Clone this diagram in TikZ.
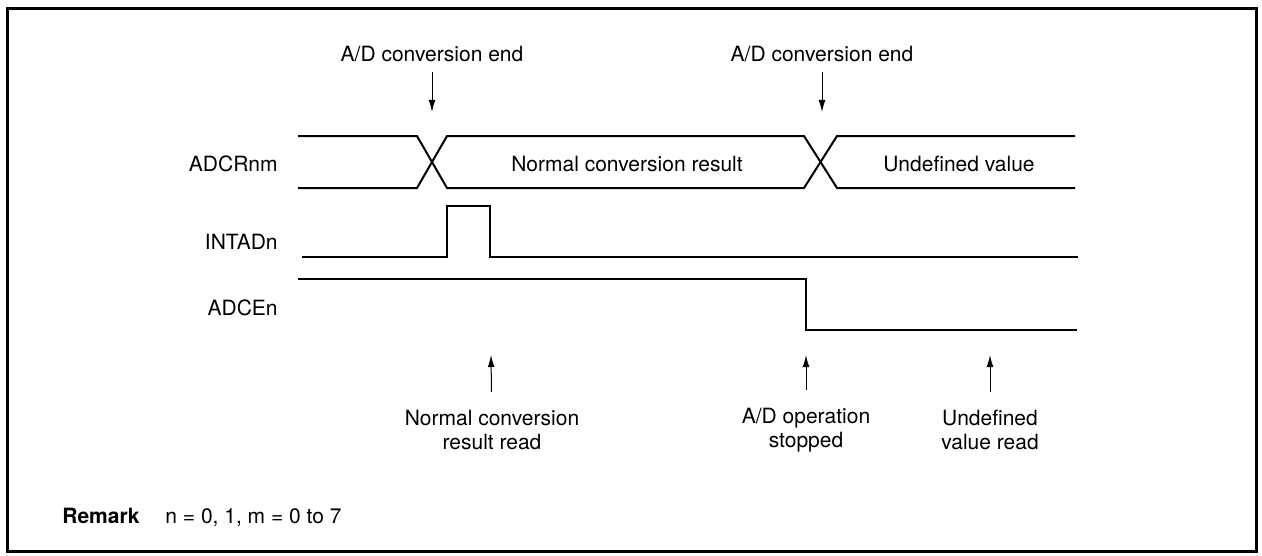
\documentclass[tikz,border=0pt]{standalone}
\usepackage{fontspec}
\setmainfont{TeX Gyre Heros}
\usetikzlibrary{arrows.meta, positioning}
\tikzset{
    sig/.style={line width=1pt, line join=miter},
    evarrow/.style={-{Latex[length=6pt, width=3.4pt]}, line width=0.5pt},
    siglabel/.style={anchor=east, inner sep=0pt},
    note/.style={align=center, inner sep=0pt},
}

\begin{document}
\begin{tikzpicture}[
    x=0.5pt, y=-0.5pt,
    font=\fontsize{10.5}{12}\selectfont,
    remhead/.style={anchor=base west, inner sep=0pt,
                    font=\fontsize{10.5}{12}\selectfont\bfseries},
]
\useasboundingbox (0,0) rectangle (1262,556);
\draw[line width=1.5pt] (7,9) rectangle (1256,551);

% --- signal names ---
\node[siglabel] (n-adcr) at (278,164) {ADCRnm};
\node[siglabel] (n-int) at (278,242) {INTADn};
\node[siglabel] (n-adce) at (278,308) {ADCEn};

% --- waveforms ---
\draw[sig] (298,136) -- (417,136) -- (447,188) -- (804,188) -- (837,136) -- (1075,136);
\draw[sig] (298,188) -- (417,188) -- (447,136) -- (804,136) -- (837,188) -- (1075,188);
\node (v-ncr) at (627,164) {Normal conversion result};
\node (v-undef) at (959,164) {Undefined value};
\draw[sig] (302,257) -- (447,257) -- (447,206) -- (490,206) -- (490,257) -- (1078,257);
\draw[sig] (298,279) -- (806,279) -- (806,330) -- (1077,330);

% --- events above ---
\node[note] (e-end1) at (432,54) {A/D conversion end};
\node[note] (e-end2) at (822,54) {A/D conversion end};
\coordinate (p-end1) at (432,112);
\coordinate (p-end2) at (822,112);
\draw[evarrow, shorten <=5pt] (e-end1) -- (p-end1);
\draw[evarrow, shorten <=5pt] (e-end2) -- (p-end2);

% --- events below ---
\node[note] (e-read) at (492,430) {Normal conversion\\result read};
\node[note] (e-stop) at (806,430) {A/D operation\\stopped};
\node[note] (e-undef) at (990,430) {Undefined\\value read};
\coordinate (p-read) at (491,355);
\coordinate (p-stop) at (806,355);
\coordinate (p-undef) at (990,355);
\draw[evarrow, shorten <=9pt] (e-read) -- (p-read);
\draw[evarrow, shorten <=9pt] (e-stop) -- (p-stop);
\draw[evarrow, shorten <=9pt] (e-undef) -- (p-undef);

% --- remark ---
\node[remhead] (r-head) at (62,523) {Remark};
\node[anchor=base west, inner sep=0pt] (r-text) at (165,523) {n = 0, 1, m = 0 to 7};
\end{tikzpicture}
\end{document}
